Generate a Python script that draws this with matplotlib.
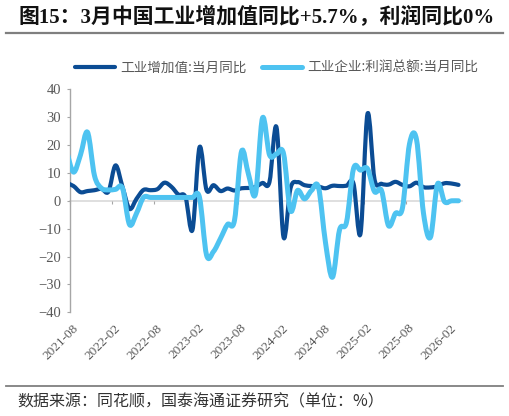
import numpy as np
import pandas as pd
import matplotlib
matplotlib.use("Agg")
import matplotlib.pyplot as plt
from matplotlib.path import Path
from matplotlib.patches import PathPatch
from matplotlib.lines import Line2D
from matplotlib.transforms import ScaledTranslation

# ---------------- data ----------------
months = [p.strftime("%Y-%m") for p in pd.period_range("2021-07", "2026-03", freq="M")]
tick_labels = ["2021-08", "2022-02", "2022-08", "2023-02", "2023-08",
               "2024-02", "2024-08", "2025-02", "2025-08", "2026-02"]
series_names = ["工业增加值:当月同比", "工业企业:利润总额:当月同比"]

ip_yoy = [6.4, 5.3, 3.1, 3.5, 3.8, 4.3, 3.3, 12.7, 5.0, -2.9,
          0.7, 3.9, 3.8, 4.2, 6.5, 5.0, 2.2, 1.3, -10.4, 19.2,
          3.9, 5.6, 3.5, 4.4, 3.7, 4.5, 4.6, 5.0, 6.4, 6.8,
          26.4, -13.0, 4.5, 6.7, 5.6, 5.3, 5.1, 4.5, 5.4, 5.3,
          5.4, 6.2, -11.8, 31.2, 7.7, 6.1, 5.8, 6.8, 5.7, 5.2,
          6.5, 4.9, 4.8, 5.2, 6.3, 6.2, 5.7]

profit_yoy = [18.0, 10.3, 16.5, 24.6, 9.0, 4.5, 3.9, 4.1, 4.5, -8.5,
              -4.5, 1.2, 1.2, 1.2, 1.2, 1.2, 1.2, 1.2, 1.2, 1.2,
              -19.4, -18.2, -13.5, -8.5, -7.0, 17.7, 9.5, 2.5, 29.7, 16.5,
              16.8, 17.0, -3.5, 3.7, 0.7, 3.7, 4.8, -15.0, -27.4, -10.5,
              -7.7, 11.5, 11.0, 11.5, 3.3, 3.7, -8.9, -4.5, -2.5, 20.4,
              22.0, -4.5, -13.0, 6.0, -0.3, 0.0, 0.0]

# ---------------- style ----------------
DARK = "#0B4C94"
LIGHT = "#4EC3F1"
GRID = "#D9D9D9"
AXIS = "#A6A6A6"
TXT = "#595959"
CJK = ["Noto Sans CJK SC", "DejaVu Sans"]
SERIF = ["Liberation Serif", "Noto Sans CJK SC"]
plt.rcParams["font.family"] = SERIF


def smooth_path(x, y):
    """Cubic Bezier path through the points (Catmull-Rom style, like Excel smoothing)."""
    x = np.asarray(x, float)
    y = np.asarray(y, float)
    n = len(x)
    verts = [(x[0], y[0])]
    codes = [Path.MOVETO]
    for i in range(n - 1):
        xp, yp = (x[i - 1], y[i - 1]) if i > 0 else (x[i], y[i])
        xn, yn = (x[i + 2], y[i + 2]) if i + 2 < n else (x[i + 1], y[i + 1])
        c1 = (x[i] + (x[i + 1] - xp) / 6.0, y[i] + (y[i + 1] - yp) / 6.0)
        c2 = (x[i + 1] - (xn - x[i]) / 6.0, y[i + 1] - (yn - y[i]) / 6.0)
        verts += [c1, c2, (x[i + 1], y[i + 1])]
        codes += [Path.CURVE4] * 3
    return Path(verts, codes)


W, H = 509, 416
fig = plt.figure(figsize=(W / 100, H / 100), dpi=100)
fig.patch.set_facecolor("white")

left, right, top, bottom = 70, 462, 89.3, 312.3
ax = fig.add_axes([left / W, 1 - bottom / H, (right - left) / W, (bottom - top) / H])

# category positions: months[0] is 2021-07 -> position -0.5 (clipped), 2021-08 -> 0.5
base = months.index("2021-08")
xpos = np.arange(len(months)) - base + 0.5
ax.set_xlim(0, len(months) - base)
ax.set_ylim(-40, 40)

ax.add_patch(PathPatch(smooth_path(xpos, ip_yoy), fill=False, edgecolor=DARK,
                       lw=3.0, capstyle="round", joinstyle="round", zorder=3))
ax.add_patch(PathPatch(smooth_path(xpos, profit_yoy), fill=False, edgecolor=LIGHT,
                       lw=3.6, capstyle="round", joinstyle="round", zorder=4))

# spines
for s in ("top", "right"):
    ax.spines[s].set_visible(False)
ax.spines["left"].set_color(AXIS)
ax.spines["left"].set_linewidth(1.0)
ax.spines["bottom"].set_position(("data", 0))
ax.spines["bottom"].set_color(GRID)
ax.spines["bottom"].set_linewidth(1.2)
ax.spines["bottom"].set_zorder(1)

ax.set_yticks(np.arange(-40, 41, 10))
ax.tick_params(axis="y", direction="out", length=2.5, width=0.8, color=AXIS,
               labelcolor=TXT, labelsize=10.5, pad=4)

tick_pos = [months.index(t) - base for t in tick_labels]
ax.set_xticks(tick_pos)
ax.tick_params(axis="x", direction="out", length=2.5, width=0.8, color=AXIS,
               labelbottom=False)

sec = ax.secondary_xaxis("bottom")
sec.set_xticks(tick_pos)
sec.set_xticklabels(tick_labels, rotation=45, ha="right", va="top",
                    rotation_mode="anchor", fontfamily=SERIF, fontsize=9.5,
                    color=TXT)
sec.spines["bottom"].set_visible(False)
sec.tick_params(axis="x", length=0, pad=7)
off = ScaledTranslation(2 / 100, 0, fig.dpi_scale_trans)
for lab in sec.get_xticklabels():
    lab.set_transform(lab.get_transform() + off)

# legend
handles = [Line2D([], [], color=DARK, lw=3.0, solid_capstyle="round"),
           Line2D([], [], color=LIGHT, lw=3.6, solid_capstyle="round")]
fig.legend(handles, series_names, loc="center", bbox_to_anchor=(0.543, 1 - 68 / H),
           ncol=2, frameon=False, prop={"family": CJK, "size": 9.8},
           handlelength=3.0, handletextpad=0.35, columnspacing=1.1, labelcolor=TXT)

# title, rules and source
fig.text(18 / W, 1 - 16.5 / H, "图15：3月中国工业增加值同比+5.7%，利润同比0%",
         fontsize=15, fontweight="bold", family=SERIF, ha="left", va="center",
         color="#111111")
fig.add_artist(Line2D([6 / W, 503 / W], [1 - 33 / H] * 2, color="#7F7F7F", lw=1.6))
fig.add_artist(Line2D([6 / W, 503 / W], [1 - 386 / H] * 2, color="#7F7F7F", lw=1.3))
fig.text(17 / W, 1 - 402 / H, "数据来源：同花顺，国泰海通证券研究（单位：%）",
         fontsize=11.5, family=CJK, ha="left", va="center", color="#333333")

fig.savefig("out.png", dpi=100, facecolor="white")
